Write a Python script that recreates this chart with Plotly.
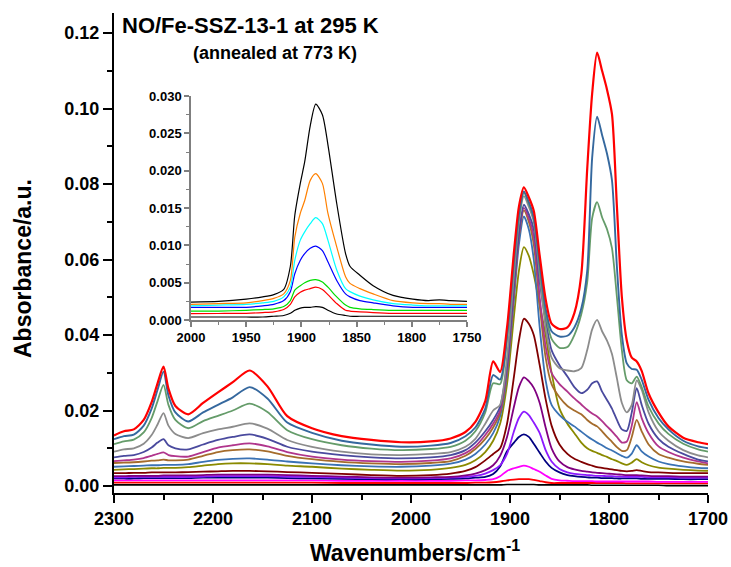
import plotly.graph_objects as go

# ---------------- main panel data ----------------
wn = [2300, 2290, 2280, 2270, 2262, 2256, 2250, 2245, 2238, 2225,
      2210, 2195, 2180, 2163, 2145, 2125, 2100, 2070, 2040, 2010,
      1980, 1960, 1945, 1935, 1925, 1917, 1910, 1903, 1896, 1891,
      1886, 1881, 1876, 1870, 1864, 1858, 1850, 1842, 1835, 1828,
      1822, 1817, 1812, 1807, 1802, 1797, 1792, 1787, 1782, 1777,
      1772, 1767, 1760, 1750, 1740, 1725, 1710, 1700]

red_top = [0.0134, 0.0145, 0.0150, 0.0175, 0.0222, 0.0272, 0.0316, 0.0258, 0.0212, 0.0190,
           0.0220, 0.0248, 0.0275, 0.0306, 0.0264, 0.0185, 0.0153, 0.0132, 0.0122, 0.0116,
           0.0118, 0.0126, 0.0143, 0.0170, 0.0225, 0.0330, 0.0302, 0.0420, 0.0620, 0.0740,
           0.0791, 0.0765, 0.0729, 0.0610, 0.0495, 0.0430, 0.0416, 0.0420, 0.0458, 0.0560,
           0.0840, 0.1040, 0.1148, 0.1100, 0.1050, 0.0985, 0.0740, 0.0500, 0.0385, 0.0340,
           0.0330, 0.0305, 0.0245, 0.0195, 0.0158, 0.0128, 0.0116, 0.0111]
steel1 = [0.0124, 0.0132, 0.0136, 0.0160, 0.0205, 0.0255, 0.0303, 0.0240, 0.0195, 0.0171,
          0.0195, 0.0215, 0.0235, 0.0262, 0.0232, 0.0168, 0.0141, 0.0120, 0.0110, 0.0104,
          0.0107, 0.0114, 0.0132, 0.0155, 0.0205, 0.0294, 0.0282, 0.0400, 0.0600, 0.0720,
          0.0780, 0.0752, 0.0712, 0.0590, 0.0470, 0.0410, 0.0396, 0.0398, 0.0420, 0.0470,
          0.0570, 0.0870, 0.0978, 0.0930, 0.0880, 0.0810, 0.0580, 0.0400, 0.0325, 0.0310,
          0.0308, 0.0282, 0.0228, 0.0180, 0.0150, 0.0120, 0.0105, 0.0100]
green = [0.0111, 0.0118, 0.0123, 0.0142, 0.0180, 0.0225, 0.0268, 0.0215, 0.0175, 0.0153,
         0.0172, 0.0186, 0.0200, 0.0218, 0.0196, 0.0148, 0.0124, 0.0108, 0.0099, 0.0095,
         0.0098, 0.0104, 0.0120, 0.0145, 0.0195, 0.0272, 0.0270, 0.0390, 0.0590, 0.0710,
         0.0777, 0.0748, 0.0708, 0.0580, 0.0455, 0.0390, 0.0366, 0.0368, 0.0400, 0.0455,
         0.0540, 0.0710, 0.0752, 0.0712, 0.0680, 0.0630, 0.0500, 0.0360, 0.0280, 0.0272,
         0.0290, 0.0262, 0.0210, 0.0166, 0.0138, 0.0112, 0.0097, 0.0091]
grey = [0.0091, 0.0097, 0.0100, 0.0112, 0.0135, 0.0163, 0.0193, 0.0160, 0.0138, 0.0127,
        0.0140, 0.0150, 0.0157, 0.0166, 0.0152, 0.0122, 0.0104, 0.0091, 0.0084, 0.0082,
        0.0085, 0.0090, 0.0104, 0.0125, 0.0165, 0.0200, 0.0215, 0.0340, 0.0560, 0.0700,
        0.0768, 0.0740, 0.0700, 0.0560, 0.0420, 0.0340, 0.0312, 0.0306, 0.0304, 0.0312,
        0.0360, 0.0415, 0.0440, 0.0410, 0.0385, 0.0350, 0.0285, 0.0220, 0.0195, 0.0215,
        0.0280, 0.0255, 0.0195, 0.0145, 0.0120, 0.0095, 0.0081, 0.0076]
slate = [0.0076, 0.0080, 0.0082, 0.0090, 0.0102, 0.0115, 0.0124, 0.0108, 0.0100, 0.0097,
         0.0110, 0.0122, 0.0130, 0.0137, 0.0125, 0.0104, 0.0091, 0.0082, 0.0076, 0.0073,
         0.0076, 0.0082, 0.0095, 0.0115, 0.0145, 0.0175, 0.0210, 0.0320, 0.0530, 0.0670,
         0.0745, 0.0720, 0.0680, 0.0540, 0.0440, 0.0360, 0.0320, 0.0290, 0.0262, 0.0246,
         0.0255, 0.0272, 0.0277, 0.0250, 0.0228, 0.0205, 0.0175, 0.0150, 0.0146, 0.0195,
         0.0259, 0.0215, 0.0165, 0.0125, 0.0104, 0.0085, 0.0070, 0.0065]
mvred = [0.0066, 0.0068, 0.0070, 0.0074, 0.0080, 0.0085, 0.0089, 0.0082, 0.0079, 0.0078,
         0.0090, 0.0102, 0.0108, 0.0113, 0.0105, 0.0090, 0.0078, 0.0070, 0.0066, 0.0064,
         0.0067, 0.0073, 0.0087, 0.0105, 0.0135, 0.0165, 0.0200, 0.0310, 0.0520, 0.0665,
         0.0737, 0.0710, 0.0660, 0.0500, 0.0370, 0.0300, 0.0270, 0.0250, 0.0232, 0.0216,
         0.0202, 0.0192, 0.0184, 0.0172, 0.0158, 0.0145, 0.0130, 0.0115, 0.0118, 0.0160,
         0.0222, 0.0180, 0.0140, 0.0105, 0.0090, 0.0075, 0.0065, 0.0060]
brown = [0.0061, 0.0062, 0.0063, 0.0065, 0.0067, 0.0068, 0.0070, 0.0068, 0.0068, 0.0070,
         0.0080, 0.0090, 0.0095, 0.0097, 0.0092, 0.0080, 0.0071, 0.0064, 0.0060, 0.0058,
         0.0061, 0.0066, 0.0080, 0.0098, 0.0125, 0.0155, 0.0195, 0.0305, 0.0510, 0.0660,
         0.0730, 0.0700, 0.0640, 0.0480, 0.0340, 0.0270, 0.0235, 0.0212, 0.0200, 0.0190,
         0.0175, 0.0165, 0.0158, 0.0145, 0.0130, 0.0117, 0.0103, 0.0093, 0.0095, 0.0130,
         0.0175, 0.0145, 0.0110, 0.0085, 0.0075, 0.0065, 0.0059, 0.0056]
steel2 = [0.0051, 0.0052, 0.0053, 0.0054, 0.0055, 0.0055, 0.0056, 0.0056, 0.0056, 0.0058,
          0.0064, 0.0069, 0.0072, 0.0073, 0.0070, 0.0065, 0.0060, 0.0055, 0.0052, 0.0051,
          0.0054, 0.0059, 0.0070, 0.0085, 0.0110, 0.0140, 0.0185, 0.0295, 0.0495, 0.0640,
          0.0714, 0.0680, 0.0600, 0.0420, 0.0280, 0.0215, 0.0188, 0.0170, 0.0158, 0.0144,
          0.0132, 0.0123, 0.0115, 0.0108, 0.0100, 0.0094, 0.0087, 0.0080, 0.0075, 0.0086,
          0.0108, 0.0092, 0.0078, 0.0065, 0.0058, 0.0052, 0.0048, 0.0047]
olive = [0.0043, 0.0044, 0.0045, 0.0046, 0.0047, 0.0047, 0.0048, 0.0048, 0.0048, 0.0050,
         0.0054, 0.0058, 0.0060, 0.0060, 0.0058, 0.0054, 0.0051, 0.0046, 0.0043, 0.0041,
         0.0043, 0.0048, 0.0056, 0.0068, 0.0090, 0.0120, 0.0165, 0.0270, 0.0450, 0.0570,
         0.0633, 0.0610, 0.0560, 0.0480, 0.0400, 0.0300, 0.0205, 0.0165, 0.0140, 0.0115,
         0.0100, 0.0093, 0.0088, 0.0082, 0.0077, 0.0071, 0.0066, 0.0060, 0.0056, 0.0062,
         0.0071, 0.0063, 0.0055, 0.0049, 0.0046, 0.0043, 0.0041, 0.0040]
maroon = [0.0034, 0.0034, 0.0035, 0.0035, 0.0036, 0.0036, 0.0036, 0.0036, 0.0036, 0.0037,
          0.0038, 0.0039, 0.0040, 0.0040, 0.0039, 0.0037, 0.0035, 0.0032, 0.0029, 0.0027,
          0.0029, 0.0033, 0.0040, 0.0050, 0.0068, 0.0085, 0.0100, 0.0165, 0.0290, 0.0385,
          0.0443, 0.0430, 0.0400, 0.0320, 0.0230, 0.0160, 0.0110, 0.0085, 0.0072, 0.0064,
          0.0058, 0.0054, 0.0050, 0.0048, 0.0046, 0.0044, 0.0042, 0.0040, 0.0039, 0.0040,
          0.0042, 0.0040, 0.0037, 0.0036, 0.0035, 0.0034, 0.0034, 0.0034]
purple = [0.0026, 0.0026, 0.0027, 0.0027, 0.0027, 0.0027, 0.0028, 0.0028, 0.0028, 0.0028,
          0.0029, 0.0030, 0.0030, 0.0030, 0.0030, 0.0029, 0.0027, 0.0025, 0.0023, 0.0022,
          0.0023, 0.0024, 0.0028, 0.0033, 0.0042, 0.0055, 0.0080, 0.0130, 0.0210, 0.0262,
          0.0288, 0.0278, 0.0260, 0.0220, 0.0155, 0.0100, 0.0065, 0.0050, 0.0044, 0.0040,
          0.0038, 0.0036, 0.0035, 0.0034, 0.0033, 0.0032, 0.0031, 0.0030, 0.0029, 0.0029,
          0.0029, 0.0028, 0.0027, 0.0026, 0.0026, 0.0025, 0.0025, 0.0025]
violet = [0.0023, 0.0023, 0.0024, 0.0024, 0.0024, 0.0024, 0.0024, 0.0024, 0.0024, 0.0024,
          0.0025, 0.0026, 0.0026, 0.0026, 0.0026, 0.0025, 0.0024, 0.0022, 0.0021, 0.0020,
          0.0021, 0.0022, 0.0024, 0.0027, 0.0033, 0.0042, 0.0055, 0.0085, 0.0145, 0.0180,
          0.0197, 0.0188, 0.0168, 0.0140, 0.0095, 0.0065, 0.0045, 0.0036, 0.0032, 0.0030,
          0.0029, 0.0028, 0.0027, 0.0027, 0.0026, 0.0026, 0.0025, 0.0025, 0.0024, 0.0024,
          0.0024, 0.0024, 0.0023, 0.0023, 0.0023, 0.0022, 0.0022, 0.0022]
navy = [0.0020, 0.0020, 0.0020, 0.0021, 0.0021, 0.0021, 0.0021, 0.0021, 0.0021, 0.0021,
        0.0022, 0.0022, 0.0022, 0.0022, 0.0022, 0.0021, 0.0020, 0.0019, 0.0018, 0.0018,
        0.0018, 0.0019, 0.0020, 0.0022, 0.0024, 0.0032, 0.0052, 0.0092, 0.0115, 0.0130,
        0.0137, 0.0130, 0.0112, 0.0088, 0.0065, 0.0048, 0.0036, 0.0029, 0.0026, 0.0024,
        0.0023, 0.0022, 0.0022, 0.0021, 0.0021, 0.0021, 0.0020, 0.0020, 0.0020, 0.0020,
        0.0020, 0.0019, 0.0019, 0.0019, 0.0019, 0.0018, 0.0018, 0.0018]
magenta = [0.0015, 0.0015, 0.0015, 0.0015, 0.0015, 0.0015, 0.0015, 0.0015, 0.0015, 0.0015,
           0.0015, 0.0015, 0.0015, 0.0015, 0.0015, 0.0015, 0.0015, 0.0014, 0.0014, 0.0014,
           0.0014, 0.0014, 0.0015, 0.0015, 0.0016, 0.0018, 0.0026, 0.0040, 0.0047, 0.0051,
           0.0054, 0.0051, 0.0045, 0.0038, 0.0028, 0.0019, 0.0015, 0.0014, 0.0013, 0.0013,
           0.0013, 0.0013, 0.0012, 0.0012, 0.0012, 0.0012, 0.0012, 0.0012, 0.0012, 0.0012,
           0.0012, 0.0012, 0.0012, 0.0011, 0.0011, 0.0011, 0.0011, 0.0011]
red_low = [0.0009, 0.0009, 0.0009, 0.0009, 0.0009, 0.0009, 0.0009, 0.0009, 0.0009, 0.0009,
           0.0009, 0.0009, 0.0009, 0.0009, 0.0009, 0.0009, 0.0009, 0.0008, 0.0008, 0.0008,
           0.0008, 0.0008, 0.0008, 0.0009, 0.0009, 0.0010, 0.0012, 0.0015, 0.0017, 0.0018,
           0.0018, 0.0018, 0.0016, 0.0013, 0.0010, 0.0008, 0.0008, 0.0008, 0.0008, 0.0008,
           0.0008, 0.0008, 0.0008, 0.0008, 0.0008, 0.0008, 0.0008, 0.0008, 0.0007, 0.0007,
           0.0007, 0.0007, 0.0007, 0.0007, 0.0007, 0.0007, 0.0007, 0.0007]
black_low = [0.0003, 0.0003, 0.0003, 0.0003, 0.0003, 0.0003, 0.0003, 0.0003, 0.0003, 0.0003,
             0.0003, 0.0003, 0.0003, 0.0003, 0.0003, 0.0003, 0.0003, 0.0003, 0.0003, 0.0003,
             0.0003, 0.0003, 0.0003, 0.0003, 0.0003, 0.0003, 0.0003, 0.0004, 0.0004, 0.0004,
             0.0004, 0.0004, 0.0004, 0.0003, 0.0003, 0.0003, 0.0003, 0.0003, 0.0003, 0.0003,
             0.0003, 0.0002, 0.0002, 0.0002, 0.0002, 0.0002, 0.0002, 0.0002, 0.0002, 0.0002,
             0.0002, 0.0002, 0.0002, 0.0002, 0.0001, 0.0001, 0.0001, 0.0001]

main_series = [
    (black_low, "#000000", 1.6),
    (red_low, "#ff0000", 1.8),
    (magenta, "#ff00ff", 1.8),
    (navy, "#000080", 1.8),
    (violet, "#8c1aff", 1.8),
    (purple, "#800080", 1.8),
    (maroon, "#800000", 1.8),
    (olive, "#8a8a00", 1.8),
    (steel2, "#3a72b4", 1.8),
    (brown, "#a56c2c", 1.8),
    (mvred, "#b0358c", 1.8),
    (slate, "#4a4a9e", 1.8),
    (grey, "#8c8c8c", 1.8),
    (green, "#659c6a", 1.8),
    (steel1, "#35689e", 1.9),
    (red_top, "#ff0000", 2.2),
]

# ---------------- inset data ----------------
wn_in = [2000, 1975, 1950, 1935, 1925, 1916, 1910, 1906, 1901, 1897,
         1892, 1887, 1881, 1876, 1868, 1860, 1856, 1847, 1835, 1817,
         1799, 1785, 1775, 1765, 1750]
in_black_top = [0.0024, 0.0025, 0.0028, 0.0031, 0.0034, 0.0041, 0.0072, 0.0140, 0.0183, 0.0212,
                0.0260, 0.0289, 0.0275, 0.0235, 0.0156, 0.0089, 0.0072, 0.0060, 0.0046, 0.0033,
                0.0028, 0.0026, 0.0027, 0.0026, 0.0025]
in_orange = [0.0021, 0.0022, 0.0023, 0.0026, 0.0029, 0.0035, 0.0053, 0.0111, 0.0143, 0.0160,
             0.0187, 0.0196, 0.0183, 0.0143, 0.0098, 0.0058, 0.0049, 0.0042, 0.0035, 0.0026,
             0.0023, 0.0022, 0.0022, 0.0021, 0.0021]
in_cyan = [0.0019, 0.0020, 0.0021, 0.0023, 0.0025, 0.0031, 0.0044, 0.0080, 0.0107, 0.0118,
           0.0129, 0.0137, 0.0129, 0.0107, 0.0067, 0.0042, 0.0038, 0.0032, 0.0027, 0.0022,
           0.0020, 0.0019, 0.0019, 0.0019, 0.0019]
in_blue = [0.0017, 0.0017, 0.0017, 0.0019, 0.0021, 0.0026, 0.0038, 0.0062, 0.0080, 0.0089,
           0.0096, 0.0099, 0.0093, 0.0078, 0.0053, 0.0035, 0.0031, 0.0026, 0.0023, 0.0019,
           0.0017, 0.0017, 0.0017, 0.0017, 0.0017]
in_green = [0.0012, 0.0012, 0.0013, 0.0014, 0.0015, 0.0018, 0.0026, 0.0040, 0.0046, 0.0050,
            0.0053, 0.0054, 0.0051, 0.0044, 0.0031, 0.0020, 0.0017, 0.0015, 0.0014, 0.0013,
            0.0013, 0.0013, 0.0013, 0.0013, 0.0013]
in_red = [0.00085, 0.00087, 0.0009, 0.0010, 0.0011, 0.0014, 0.0021, 0.0031, 0.0037, 0.0040,
          0.0042, 0.0044, 0.0041, 0.0034, 0.0022, 0.0013, 0.0012, 0.0011, 0.0010, 0.0009,
          0.0009, 0.0009, 0.0009, 0.0009, 0.0009]
in_black_low = [0.0004, 0.0004, 0.0004, 0.0004, 0.0005, 0.0006, 0.0009, 0.0013, 0.0016, 0.0017,
                0.0017, 0.0018, 0.0017, 0.0013, 0.0008, 0.0006, 0.0005, 0.0005, 0.0005, 0.0005,
                0.0005, 0.0005, 0.0005, 0.0005, 0.0005]

inset_series = [
    (in_black_low, "#000000"),
    (in_red, "#ff0000"),
    (in_green, "#00dd00"),
    (in_blue, "#0000ff"),
    (in_cyan, "#00ffff"),
    (in_orange, "#ff8000"),
    (in_black_top, "#000000"),
]

title_text = "NO/Fe-SSZ-13-1 at 295 K"
subtitle_text = "(annealed at 773 K)"
x_title = "Wavenumbers/cm<sup>-1</sup>"
y_title = "Absorbance/a.u."

FONT = "Liberation Sans, Arial, sans-serif"

fig = go.Figure()
for ys, col, w in main_series:
    fig.add_trace(go.Scatter(x=wn, y=ys, mode="lines",
                             line=dict(color=col, width=w, shape="spline", smoothing=0.7),
                             xaxis="x", yaxis="y", showlegend=False, hoverinfo="skip"))
for ys, col in inset_series:
    fig.add_trace(go.Scatter(x=wn_in, y=ys, mode="lines",
                             line=dict(color=col, width=1.2, shape="spline", smoothing=0.7),
                             xaxis="x2", yaxis="y2", showlegend=False, hoverinfo="skip"))

W, H = 731, 567
L, R, T, B = 114, 23, 13, 74
pw, ph = W - L - R, H - T - B


def px_x(px):
    return (px - L) / pw


def px_y(py):
    return (H - B - py) / ph


tickfont_main = dict(family=FONT, size=18, color="black", weight="bold")
tickfont_in = dict(family=FONT, size=13, color="black", weight="bold")

fig.update_layout(
    template="none",
    width=W, height=H, autosize=False,
    margin=dict(l=L, r=R, t=T, b=B, pad=0, autoexpand=False),
    paper_bgcolor="white", plot_bgcolor="rgba(0,0,0,0)",
    showlegend=False,
    xaxis=dict(range=[2300, 1700], domain=[0, 1], anchor="y", automargin=False,
               showline=True, linecolor="black", linewidth=2, mirror=False,
               ticks="outside", ticklen=8, tickwidth=2, tickcolor="black",
               tickvals=[2300, 2200, 2100, 2000, 1900, 1800, 1700],
               tickfont=tickfont_main, showgrid=False, zeroline=False,
               minor=dict(dtick=50, tick0=0, ticks="outside", ticklen=5,
                          tickwidth=1.5, tickcolor="black", showgrid=False)),
    yaxis=dict(range=[-0.00185, 0.1253], domain=[0, 1], anchor="x", automargin=False,
               showline=True, linecolor="black", linewidth=2, mirror=False,
               ticks="outside", ticklen=9, tickwidth=2, tickcolor="black",
               tick0=0, dtick=0.02, tickformat=".2f",
               tickfont=tickfont_main, showgrid=False, zeroline=False,
               minor=dict(dtick=0.01, tick0=0, ticks="outside", ticklen=5,
                          tickwidth=1.5, tickcolor="black", showgrid=False)),
    xaxis2=dict(range=[2000, 1750], domain=[px_x(191), px_x(467)], anchor="y2",
                automargin=False,
                showline=True, linecolor="#7f7f7f", linewidth=1.5,
                ticks="outside", ticklen=5, tickwidth=1.5, tickcolor="#7f7f7f",
                tick0=0, dtick=50, tickfont=tickfont_in,
                showgrid=False, zeroline=False,
                minor=dict(dtick=25, tick0=0, ticks="outside", ticklen=3,
                           tickwidth=1, tickcolor="#7f7f7f", showgrid=False)),
    yaxis2=dict(range=[0, 0.030], domain=[px_y(320), px_y(96)], anchor="x2",
                automargin=False,
                showline=True, linecolor="#7f7f7f", linewidth=1.5,
                ticks="outside", ticklen=5, tickwidth=1.5, tickcolor="#7f7f7f",
                tick0=0, dtick=0.005, tickformat=".3f", tickfont=tickfont_in,
                showgrid=False, zeroline=False,
                minor=dict(dtick=0.0025, tick0=0, ticks="outside", ticklen=3,
                           tickwidth=1, tickcolor="#7f7f7f", showgrid=False)),
    annotations=[
        dict(text=title_text, xref="paper", yref="paper", x=px_x(120), y=px_y(25),
             xanchor="left", yanchor="middle", showarrow=False,
             font=dict(family=FONT, size=22, color="black", weight="bold")),
        dict(text=subtitle_text, xref="paper", yref="paper", x=px_x(191), y=px_y(53),
             xanchor="left", yanchor="middle", showarrow=False,
             font=dict(family=FONT, size=18, color="black", weight="bold")),
        dict(text=x_title, xref="paper", yref="paper", x=px_x(415), y=px_y(551),
             xanchor="center", yanchor="middle", showarrow=False,
             font=dict(family=FONT, size=23, color="black", weight="bold")),
        dict(text=y_title, xref="paper", yref="paper", x=px_x(23), y=px_y(269),
             xanchor="center", yanchor="middle", showarrow=False, textangle=-90,
             font=dict(family=FONT, size=23, color="black", weight="bold")),
    ],
)

fig.write_html("out.html")
